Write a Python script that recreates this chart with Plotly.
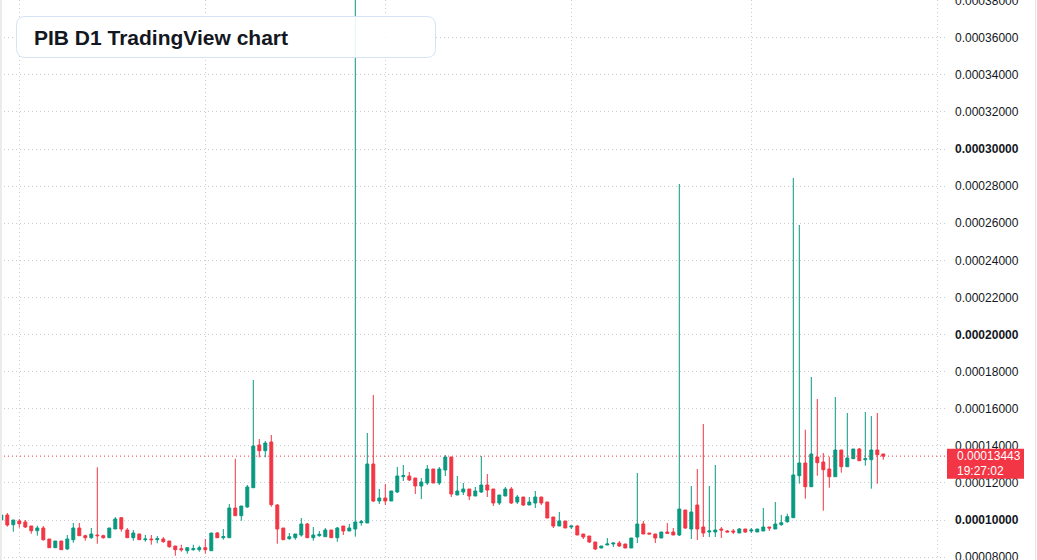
import pandas as pd
import plotly.graph_objects as go

# ---------------- data (prices) ----------------
start_date = "2024-07-29"

open_ = [0.00010000, 0.00010270, 0.00009747, 0.00009946, 0.00009892, 0.00009677, 0.00009423, 0.00009569, 0.00008976, 0.00008507,
         0.00008868, 0.00008437, 0.00008938, 0.00009569, 0.00009154, 0.00009046, 0.00009191, 0.00009154, 0.00009046, 0.00009515,
         0.00010124, 0.00009461, 0.00009046, 0.00009245, 0.00008938, 0.00008976, 0.00008938, 0.00008976, 0.00008868, 0.00008598,
         0.00008453, 0.00008345, 0.00008399, 0.00008399, 0.00008507, 0.00008345, 0.00009299, 0.00009046, 0.00009046, 0.00010647,
         0.00010232, 0.00010701, 0.00011741, 0.00014043, 0.00013736, 0.00014205, 0.00010809, 0.00009569, 0.00008992, 0.00009046,
         0.00009191, 0.00009784, 0.00009046, 0.00009154, 0.00009100, 0.00009461, 0.00009046, 0.00009677, 0.00009407, 0.00009515,
         0.00009854, 0.00009838, 0.00013019, 0.00011024, 0.00011186, 0.00011024, 0.00011509, 0.00012334, 0.00012372, 0.00012264,
         0.00011833, 0.00011995, 0.00012749, 0.00011995, 0.00012696, 0.00013396, 0.00011348, 0.00011509, 0.00011671, 0.00011294,
         0.00011509, 0.00011887, 0.00011671, 0.00010916, 0.00011294, 0.00011671, 0.00010970, 0.00011240, 0.00010809, 0.00010916,
         0.00011240, 0.00010970, 0.00010162, 0.00009677, 0.00009946, 0.00009623, 0.00009677, 0.00009245, 0.00009137, 0.00008814,
         0.00008491, 0.00008652, 0.00008706, 0.00008760, 0.00008706, 0.00008491, 0.00009084, 0.00009784, 0.00009299, 0.00009245,
         0.00009030, 0.00009353, 0.00009353, 0.00009191, 0.00010539, 0.00009515, 0.00010809, 0.00009623, 0.00009353, 0.00009353,
         0.00009515, 0.00009407, 0.00009407, 0.00009299, 0.00009515, 0.00009407, 0.00009353, 0.00009407, 0.00009623, 0.00009515,
         0.00009747, 0.00009908, 0.00010124, 0.00012388, 0.00013073, 0.00011795, 0.00013396, 0.00013127, 0.00012749, 0.00012334,
         0.00013774, 0.00012873, 0.00013305, 0.00013828, 0.00013251, 0.00013251, 0.00013774, 0.00013558]

high = [0.00010270, 0.00010377, 0.00010000, 0.00010054, 0.00010000, 0.00009677, 0.00009693, 0.00009677, 0.00008976, 0.00008868,
        0.00008868, 0.00009191, 0.00009838, 0.00009838, 0.00009208, 0.00009569, 0.00012841, 0.00009208, 0.00009569, 0.00010162,
        0.00010162, 0.00009569, 0.00009461, 0.00009261, 0.00009191, 0.00009191, 0.00009137, 0.00009084, 0.00008868, 0.00008598,
        0.00008668, 0.00008507, 0.00008668, 0.00008615, 0.00008976, 0.00009299, 0.00009353, 0.00009515, 0.00010863, 0.00013305,
        0.00010755, 0.00011887, 0.00017547, 0.00014367, 0.00014259, 0.00014582, 0.00010863, 0.00009569, 0.00009299, 0.00009245,
        0.00010108, 0.00009838, 0.00009623, 0.00009407, 0.00009569, 0.00009461, 0.00009623, 0.00009677, 0.00009784, 0.00042000,
        0.00010000, 0.00014690, 0.00016739, 0.00011671, 0.00011941, 0.00011563, 0.00012857, 0.00012965, 0.00012588, 0.00012264,
        0.00012264, 0.00012965, 0.00012749, 0.00012857, 0.00013504, 0.00013396, 0.00012372, 0.00011995, 0.00011671, 0.00011779,
        0.00013450, 0.00012480, 0.00011671, 0.00011348, 0.00011779, 0.00011779, 0.00011348, 0.00011240, 0.00011240, 0.00011563,
        0.00011240, 0.00010970, 0.00010162, 0.00010431, 0.00009946, 0.00009677, 0.00009730, 0.00009245, 0.00009137, 0.00008814,
        0.00008598, 0.00009030, 0.00008760, 0.00008868, 0.00008706, 0.00009030, 0.00012534, 0.00009946, 0.00009299, 0.00009245,
        0.00009353, 0.00009838, 0.00009569, 0.00028114, 0.00010539, 0.00011833, 0.00012749, 0.00015175, 0.00011833, 0.00012965,
        0.00009623, 0.00009461, 0.00009515, 0.00009569, 0.00009515, 0.00009569, 0.00009515, 0.00010647, 0.00009623, 0.00010970,
        0.00010270, 0.00010340, 0.00028437, 0.00025903, 0.00014868, 0.00017709, 0.00016523, 0.00013612, 0.00013413, 0.00016631,
        0.00013774, 0.00015768, 0.00013828, 0.00013882, 0.00015822, 0.00015606, 0.00015768, 0.00013558]

low = [0.00010000, 0.00009639, 0.00009369, 0.00009585, 0.00009569, 0.00009261, 0.00009154, 0.00008884, 0.00008507, 0.00008507,
       0.00008399, 0.00008399, 0.00008776, 0.00009154, 0.00008884, 0.00008992, 0.00008722, 0.00008992, 0.00009046, 0.00009515,
       0.00009369, 0.00009046, 0.00008884, 0.00008938, 0.00008830, 0.00008668, 0.00008744, 0.00008776, 0.00008507, 0.00008075,
       0.00008291, 0.00008183, 0.00008345, 0.00008291, 0.00008183, 0.00008345, 0.00009046, 0.00008938, 0.00009046, 0.00010232,
       0.00009962, 0.00010663, 0.00011741, 0.00013380, 0.00013380, 0.00010717, 0.00008722, 0.00008938, 0.00008938, 0.00008938,
       0.00009100, 0.00009046, 0.00008884, 0.00009100, 0.00009100, 0.00009046, 0.00008830, 0.00009191, 0.00009407, 0.00009100,
       0.00009693, 0.00009838, 0.00010970, 0.00010863, 0.00010809, 0.00011024, 0.00011456, 0.00012102, 0.00012102, 0.00011402,
       0.00011132, 0.00011887, 0.00011995, 0.00011887, 0.00012372, 0.00011240, 0.00011348, 0.00011348, 0.00011078, 0.00011294,
       0.00011456, 0.00011240, 0.00010755, 0.00010809, 0.00011294, 0.00010863, 0.00010863, 0.00010755, 0.00010809, 0.00010647,
       0.00010809, 0.00010108, 0.00009569, 0.00009677, 0.00009569, 0.00009515, 0.00009191, 0.00008976, 0.00008760, 0.00008383,
       0.00008491, 0.00008652, 0.00008544, 0.00008544, 0.00008491, 0.00008491, 0.00008760, 0.00009245, 0.00009245, 0.00008760,
       0.00009030, 0.00009245, 0.00009191, 0.00009137, 0.00009515, 0.00008976, 0.00008922, 0.00009084, 0.00009084, 0.00009084,
       0.00009030, 0.00009353, 0.00009245, 0.00009299, 0.00009299, 0.00009299, 0.00009353, 0.00009407, 0.00009407, 0.00009515,
       0.00009693, 0.00009854, 0.00010124, 0.00011957, 0.00011148, 0.00011795, 0.00012388, 0.00010501, 0.00011741, 0.00012334,
       0.00012550, 0.00012873, 0.00013305, 0.00013197, 0.00012927, 0.00011687, 0.00011957, 0.00013251]

close = [0.00010270, 0.00009730, 0.00010000, 0.00009801, 0.00009623, 0.00009423, 0.00009569, 0.00008938, 0.00008507, 0.00008868,
         0.00008399, 0.00008976, 0.00009569, 0.00009154, 0.00009046, 0.00009245, 0.00009154, 0.00009046, 0.00009569, 0.00010054,
         0.00009515, 0.00009046, 0.00009299, 0.00008938, 0.00008976, 0.00008938, 0.00008992, 0.00008830, 0.00008561, 0.00008399,
         0.00008399, 0.00008507, 0.00008453, 0.00008507, 0.00008399, 0.00009299, 0.00009046, 0.00009100, 0.00010647, 0.00010232,
         0.00010755, 0.00011779, 0.00013989, 0.00013736, 0.00014151, 0.00010825, 0.00009515, 0.00008938, 0.00009100, 0.00009245,
         0.00009784, 0.00009046, 0.00009191, 0.00009229, 0.00009461, 0.00009046, 0.00009569, 0.00009407, 0.00009569, 0.00009892,
         0.00009908, 0.00013019, 0.00011024, 0.00011186, 0.00011024, 0.00011563, 0.00012372, 0.00012388, 0.00012156, 0.00011833,
         0.00012049, 0.00012749, 0.00011995, 0.00012749, 0.00013396, 0.00011402, 0.00011563, 0.00011671, 0.00011294, 0.00011563,
         0.00011887, 0.00011617, 0.00010916, 0.00011348, 0.00011671, 0.00010916, 0.00011240, 0.00010809, 0.00010970, 0.00011240,
         0.00010916, 0.00010108, 0.00009677, 0.00009946, 0.00009569, 0.00009677, 0.00009191, 0.00009084, 0.00008814, 0.00008437,
         0.00008598, 0.00008706, 0.00008760, 0.00008598, 0.00008491, 0.00009030, 0.00009784, 0.00009245, 0.00009245, 0.00009030,
         0.00009353, 0.00009283, 0.00009191, 0.00010593, 0.00009569, 0.00010431, 0.00009515, 0.00009299, 0.00009407, 0.00009461,
         0.00009461, 0.00009353, 0.00009353, 0.00009515, 0.00009353, 0.00009461, 0.00009515, 0.00009623, 0.00009569, 0.00009784,
         0.00009854, 0.00010178, 0.00012426, 0.00013073, 0.00011795, 0.00013558, 0.00013089, 0.00012712, 0.00012334, 0.00013774,
         0.00012873, 0.00013342, 0.00013828, 0.00013197, 0.00013305, 0.00013774, 0.00013520, 0.00013443]

price_ticks = [0.00008, 0.00010, 0.00012, 0.00014, 0.00016, 0.00018, 0.00020, 0.00022,
               0.00024, 0.00026, 0.00028, 0.00030, 0.00032, 0.00034, 0.00036, 0.00038]
bold_ticks = [0.00010, 0.00020, 0.00030]
month_starts = ["2024-08-01", "2024-09-01", "2024-10-01", "2024-11-01", "2024-12-01", "2025-01-01"]
last_time = "19:27:02"
title_text = "PIB D1 TradingView chart"

# ---------------- styling ----------------
W, H = 1037, 560
R_MARGIN = 91
PW = W - R_MARGIN
GREEN = "#089981"
RED = "#f23645"
GRID = "#c9ccd2"
TEXT = "#131722"
FONT = "Liberation Sans, Arial, sans-serif"
DOTS = "1px,3px"

dates = pd.date_range(start_date, periods=len(close), freq="D")
x_start = dates[0] - pd.Timedelta(days=0.217)
x_end = dates[0] + pd.Timedelta(days=157.45)

fig = go.Figure()
fig.add_trace(go.Candlestick(
    x=dates, open=open_, high=high, low=low, close=close,
    increasing=dict(line=dict(color=GREEN, width=1), fillcolor=GREEN),
    decreasing=dict(line=dict(color=RED, width=1), fillcolor=RED),
    whiskerwidth=0, showlegend=False, hoverinfo="skip",
))


def ticktxt(v):
    s = f"{v:.8f}"
    return f"<b>{s}</b>" if any(abs(v - b) < 1e-12 for b in bold_ticks) else s


fig.update_layout(
    width=W, height=H, autosize=False,
    margin=dict(l=0, r=R_MARGIN, t=0, b=0, pad=0, autoexpand=False),
    paper_bgcolor="white", plot_bgcolor="white",
    showlegend=False, boxgap=0.3,
    font=dict(family=FONT, color=TEXT, size=12),
    xaxis=dict(
        type="date", range=[x_start, x_end], automargin=False,
        tickvals=month_starts, showticklabels=False, ticks="",
        showgrid=True, gridcolor=GRID, griddash=DOTS, gridwidth=1,
        zeroline=False, showline=False, rangeslider=dict(visible=False),
    ),
    yaxis=dict(
        side="right", range=[0.00007844, 0.00038032], automargin=False,
        tickvals=price_ticks, ticktext=[ticktxt(v) for v in price_ticks],
        tickfont=dict(family=FONT, size=12, color=TEXT),
        ticks="", ticklabelstandoff=8, ticklabeloverflow="allow",
        showgrid=True, gridcolor=GRID, griddash=DOTS, gridwidth=1,
        zeroline=False, showline=False,
    ),
)


def px_x(x):
    return x / PW


def px_y(y):
    return 1 - y / H


def rounded_rect(x0, y0, x1, y1, r):
    pts = [
        ("M", (x0 + r, y0)), ("L", (x1 - r, y0)), ("Q", (x1, y0), (x1, y0 + r)),
        ("L", (x1, y1 - r)), ("Q", (x1, y1), (x1 - r, y1)), ("L", (x0 + r, y1)),
        ("Q", (x0, y1), (x0, y1 - r)), ("L", (x0, y0 + r)), ("Q", (x0, y0), (x0 + r, y0)),
    ]
    out = []
    for item in pts:
        cmd = item[0]
        coords = " ".join(f"{px_x(p[0]):.5f},{px_y(p[1]):.5f}" for p in item[1:])
        out.append(f"{cmd}{coords}")
    return " ".join(out) + " Z"


last_price = close[-1]

# current price dotted line
fig.add_shape(type="line", xref="paper", yref="y", x0=0, x1=1, y0=last_price, y1=last_price,
              line=dict(color=RED, width=1, dash=DOTS), layer="above")
# price label box on the price scale
fig.add_shape(type="rect", xref="paper", yref="y", ysizemode="pixel", yanchor=last_price,
              x0=px_x(947), x1=px_x(1024), y0=-22.5, y1=7.5,
              fillcolor=RED, line=dict(width=0), layer="above")
fig.add_annotation(xref="paper", yref="y", x=px_x(955), y=last_price, xanchor="left", yanchor="middle",
                   text=f"{last_price:.8f}", showarrow=False, font=dict(family=FONT, size=12, color="white"))
fig.add_annotation(xref="paper", yref="y", x=px_x(955), y=last_price, yshift=-14.5, xanchor="left",
                   yanchor="middle", text=last_time, showarrow=False,
                   font=dict(family=FONT, size=12, color="white"))

# title box
fig.add_shape(type="path", xref="paper", yref="paper", path=rounded_rect(16.5, 16.5, 435.5, 57.5, 9),
              fillcolor="rgba(255,255,255,0.9)", line=dict(color="#d6e3f5", width=1), layer="above")
fig.add_annotation(xref="paper", yref="paper", x=px_x(32), y=px_y(37.5), xanchor="left", yanchor="middle",
                   text=title_text, showarrow=False,
                   font=dict(family=FONT, size=21, color=TEXT, weight="bold"))

# container edges
fig.add_shape(type="rect", xref="paper", yref="paper", x0=0, x1=px_x(2), y0=0, y1=1,
              fillcolor="#ebebeb", line=dict(width=0), layer="above")
fig.add_shape(type="line", xref="paper", yref="paper", x0=px_x(1035.5), x1=px_x(1035.5), y0=0, y1=1,
              line=dict(color="#e3e3e3", width=1), layer="above")

fig.write_html("out.html")
